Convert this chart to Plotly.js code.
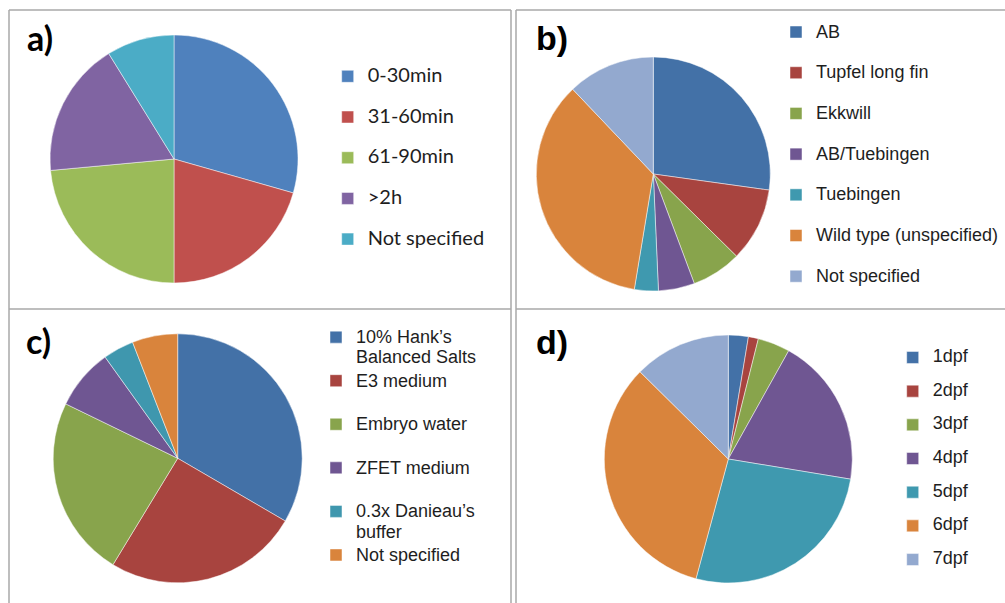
<!DOCTYPE html>
<html>
<head>
<meta charset="utf-8">
<script src="https://cdn.plot.ly/plotly-3.0.1.min.js"></script>
<style>
html,body{margin:0;padding:0;background:#fff;}
#chart{width:1005px;height:603px;}
</style>
</head>
<body>
<div id="chart"></div>
<script>
// ---- data ----
const durationLabels = ['0-30min', '31-60min', '61-90min', '>2h', 'Not specified'];
const durationValues = [10, 7, 8, 6, 3];

const strainLabels = ['AB', 'Tupfel long fin', 'Ekkwill', 'AB/Tuebingen', 'Tuebingen', 'Wild type (unspecified)', 'Not specified'];
const strainValues = [27.2, 10.2, 6.9, 5.0, 3.3, 35.3, 12.1];

const mediumLabels = ['10% Hank\u2019s<br>Balanced Salts', 'E3 medium', 'Embryo water', 'ZFET medium', '0.3x Danieau\u2019s<br>buffer', 'Not specified'];
const mediumValues = [33.4, 25.3, 23.5, 7.9, 4.0, 5.9];

const ageLabels = ['1dpf', '2dpf', '3dpf', '4dpf', '5dpf', '6dpf', '7dpf'];
const ageValues = [2.6, 1.3, 4.2, 19.5, 26.6, 33.2, 12.6];

// ---- styling ----
const colorsA = ['#4F81BD', '#C0504D', '#9BBB59', '#8064A2', '#4BACC6'];
const colorsB = ['#4371A7', '#A8443F', '#88A44C', '#6F5692', '#3F99AF', '#D9843C', '#93A9CF'];
const colorsC = ['#4371A7', '#A8443F', '#88A44C', '#6F5692', '#3F97AE', '#D9843C'];
const colorsD = ['#4371A7', '#A8443F', '#88A44C', '#6F5692', '#3F99AF', '#D9843C', '#93A9CF'];

const W = 1005, H = 603;
function dom(cx, cy, r) {
  return {x: [(cx - r) / W, (cx + r) / W], y: [1 - (cy + r) / H, 1 - (cy - r) / H]};
}
// each panel gets its own span style so identical labels in different panels stay separate legend entries
function legendLabels(arr, style) {
  return arr.map(s => '<span style="' + style + '">' + s + '</span>' + (s.indexOf('<br>') >= 0 ? '' : '<br>'));
}
const sliceLine = {color: 'rgba(255,255,255,0.6)', width: 0.8};

function pie(labels, values, colors, d, legendId, style) {
  return {
    type: 'pie', labels: legendLabels(labels, style), values: values,
    marker: {colors: colors, line: sliceLine},
    domain: d, sort: false, direction: 'clockwise', rotation: 0,
    textinfo: 'none', hoverinfo: 'percent', legend: legendId
  };
}

const data = [
  pie(durationLabels, durationValues, colorsA, dom(174, 159, 124), 'legend', 'font-size:20px'),
  pie(strainLabels, strainValues, colorsB, dom(653.3, 174, 117), 'legend2', 'font-size:18px'),
  pie(mediumLabels, mediumValues, colorsC, dom(177.7, 458.3, 124.5), 'legend3', 'font-size:18px;'),
  pie(ageLabels, ageValues, colorsD, dom(728.3, 459, 124), 'legend4', 'font-size:18px; ')
];

function leg(textX, topY, family, size) {
  return {
    x: (textX - 40) / W, y: 1 - topY / H, xanchor: 'left', yanchor: 'top',
    font: {family: family, size: size, color: '#1e1e1e'},
    valign: 'top', bgcolor: 'rgba(0,0,0,0)', borderwidth: 0, itemclick: false
  };
}

function line(x0, y0, x1, y1) {
  return {type: 'line', xref: 'paper', yref: 'paper', x0: x0 / W, y0: 1 - y0 / H, x1: x1 / W, y1: 1 - y1 / H,
          line: {color: '#A8A8A8', width: 1.5}};
}
function tag(t, x, y, family) {
  return {text: t, xref: 'paper', yref: 'paper', x: x / W, y: 1 - y / H, xanchor: 'left', yanchor: 'middle',
          showarrow: false, borderpad: 0, font: {family: family, size: 34, weight: 'bold', color: '#000'}};
}

const layout = {
  width: W, height: H,
  margin: {l: 0, r: 0, t: 0, b: 0, pad: 0},
  paper_bgcolor: '#fff',
  legend: leg(367.7, 60.4, 'Lato, sans-serif', 14.5),
  legend2: leg(816, 16.1, 'Liberation Sans, Arial, sans-serif', 14.5),
  legend3: leg(356, 320.5, 'Liberation Sans, Arial, sans-serif', 15.6),
  legend4: leg(932.7, 343.3, 'Liberation Sans, Arial, sans-serif', 11.8),
  shapes: [
    line(9, 10, 511, 10), line(516, 10, 1005, 10),
    line(9, 10, 9, 603),
    line(9, 309, 511, 309), line(516, 309, 1005, 309),
    line(511, 10, 511, 603), line(516, 10, 516, 603)
  ],
  annotations: [
    tag('a)', 26, 37, 'Lato, sans-serif'),
    tag('b)', 535, 38, 'Liberation Sans, Arial, sans-serif'),
    tag('c)', 25, 340, 'Lato, sans-serif'),
    tag('d)', 535, 342, 'Liberation Sans, Arial, sans-serif')
  ]
};

Plotly.newPlot('chart', data, layout, {displayModeBar: false, staticPlot: true});
</script>
</body>
</html>
